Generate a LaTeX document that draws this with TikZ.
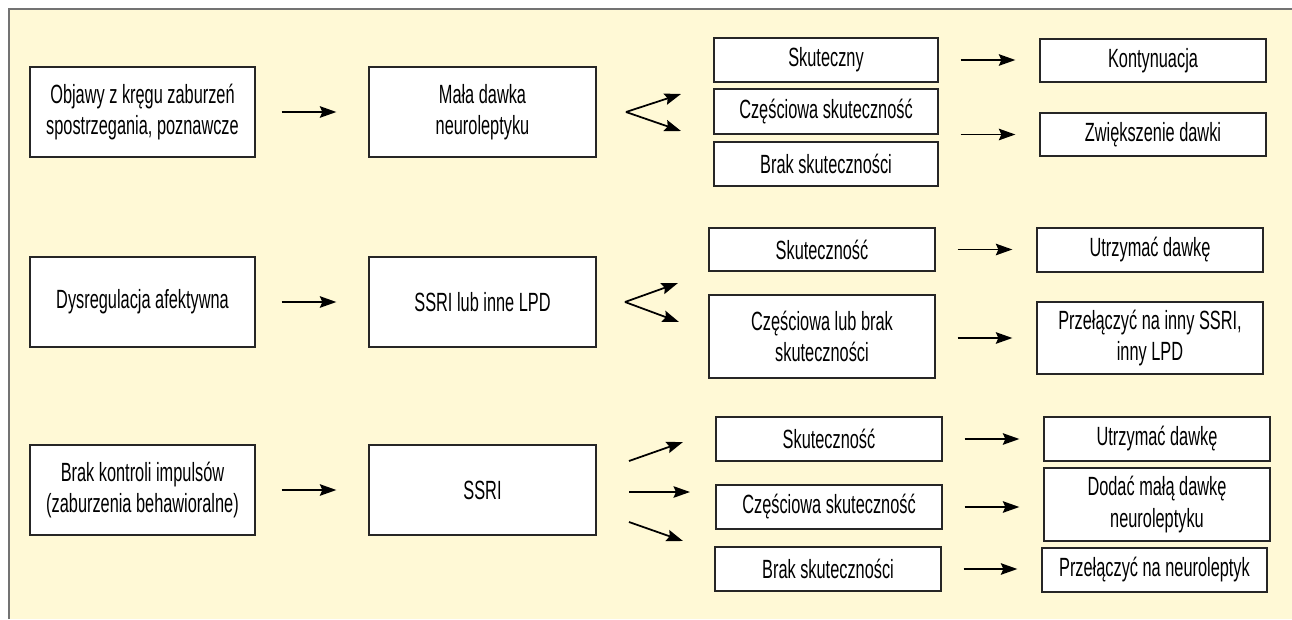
\documentclass[tikz,border=0pt]{standalone}
\usepackage{fontspec}
\setmainfont[FakeStretch=0.62]{Liberation Sans}
\usetikzlibrary{arrows.meta}
\definecolor{paper}{RGB}{255,249,214}

\begin{document}
\begin{tikzpicture}[x=0.02cm, y=-0.02cm,
	box/.style={draw=black!85, line width=0.75pt, fill=white, align=center, inner sep=0pt,
		font=\fontsize{15}{18}\selectfont},
	tip/.style={line width=1pt, -{Stealth[length=0.33cm, width=0.23cm, inset=0.05cm]}},
	arr/.style={tip, shorten <=0.44cm, shorten >=0.48cm}]
			%%%%% START %%%%%
			\useasboundingbox (0,0) rectangle (1292,619);
			\fill[paper] (9,9) rectangle (1292,619);
			\draw[black!55, line width=1.2pt] (9,619) -- (9,9) -- (1292,9);
			
			% row 1
			\node[box, minimum width=4.5cm, minimum height=1.8cm] (objawy) at (142.5,112) {Objawy z kręgu zaburzeń\\spostrzegania, poznawcze};
			\node[box, minimum width=4.54cm, minimum height=1.8cm] (dawka) at (482.5,112) {Mała dawka\\neuroleptyku};
			\draw[tip, shorten <=0.52cm, shorten >=0.64cm] (objawy) -- (dawka);
			
			\node[box, minimum width=4.48cm, minimum height=0.88cm] (skut1) at (826,60) {Skuteczny};
			\node[box, minimum width=4.48cm, minimum height=0.9cm] (czesc1) at (826,111.5) {Częściowa skuteczność};
			\node[box, minimum width=4.48cm, minimum height=0.88cm] (brak1) at (826,164) {Brak skuteczności};
			\node[box, minimum width=4.52cm, minimum height=0.86cm] (kont1) at (1153,60.5) {Kontynuacja};
			\node[box, minimum width=4.52cm, minimum height=0.86cm] (zwiek1) at (1153,134.5) {Zwiększenie dawki};
			
			\coordinate (w1) at (626,112);
			\coordinate (w1a) at (681,94);
			\coordinate (w1b) at (681,131);
			\draw[tip] (w1) -- (w1a);
			\draw[tip] (w1) -- (w1b);
			\draw[arr] (skut1.east) -- (skut1.east -| kont1.west);
			\draw[arr] (czesc1.south east |- zwiek1) -- (zwiek1.west);
			
			% row 2
			\node[box, minimum width=4.5cm, minimum height=1.8cm] (dysreg) at (142.5,302) {Dysregulacja afektywna};
			\node[box, minimum width=4.54cm, minimum height=1.8cm] (ssri2) at (482.5,302) {SSRI lub inne LPD};
			\draw[tip, shorten <=0.52cm, shorten >=0.64cm] (dysreg) -- (ssri2);
			
			\node[box, minimum width=4.52cm, minimum height=0.86cm] (skut2) at (822,249.5) {Skuteczność};
			\node[box, minimum width=4.52cm, minimum height=1.66cm] (czesc2) at (822,336.5) {Częściowa lub brak\\skuteczności};
			\node[box, minimum width=4.52cm, minimum height=0.88cm] (utrz2) at (1150,250) {Utrzymać dawkę};
			\node[box, minimum width=4.52cm, minimum height=1.44cm] (przel2) at (1150,338) {Przełączyć na inny SSRI,\\inny LPD};
			
			\coordinate (w2) at (625,302);
			\coordinate (w2a) at (678,283);
			\coordinate (w2b) at (679,322);
			\draw[tip] (w2) -- (w2a);
			\draw[tip] (w2) -- (w2b);
			\draw[arr] (skut2.east) -- (skut2.east -| utrz2.west);
			\draw[arr] (czesc2.east |- przel2) -- (przel2.west);
			
			% row 3
			\node[box, minimum width=4.5cm, minimum height=1.8cm] (impuls) at (142.5,490) {Brak kontroli impulsów\\(zaburzenia behawioralne)};
			\node[box, minimum width=4.54cm, minimum height=1.8cm] (ssri3) at (482.5,490) {SSRI};
			\draw[tip, shorten <=0.52cm, shorten >=0.64cm] (impuls) -- (ssri3);
			
			\node[box, minimum width=4.52cm, minimum height=0.88cm] (skut3) at (829,439) {Skuteczność};
			\node[box, minimum width=4.52cm, minimum height=0.88cm] (czesc3) at (829,507) {Częściowa skuteczność};
			\node[box, minimum width=4.52cm, minimum height=0.88cm] (brak3) at (828,569) {Brak skuteczności};
			\node[box, minimum width=4.52cm, minimum height=0.88cm] (utrz3) at (1157,439) {Utrzymać dawkę};
			\node[box, minimum width=4.52cm, minimum height=1.46cm] (dodac3) at (1157,504.5) {Dodać małą dawkę\\neuroleptyku};
			\node[box, minimum width=4.5cm, minimum height=0.88cm] (przel3) at (1154.5,570) {Przełączyć na neuroleptyk};
			
			\coordinate (v3a) at (629,461);
			\coordinate (v3b) at (629,492);
			\coordinate (v3c) at (629,522);
			\coordinate (e3a) at (683,442);
			\coordinate (e3b) at (690,492);
			\coordinate (e3c) at (683,541);
			\draw[tip] (v3a) -- (e3a);
			\draw[tip] (v3b) -- (e3b);
			\draw[tip] (v3c) -- (e3c);
			\draw[arr] (skut3.east) -- (skut3.east -| utrz3.west);
			\draw[arr] (czesc3.east) -- (czesc3.east -| dodac3.west);
			\draw[arr] (brak3.east) -- (brak3.east -| przel3.west);
			%%%%% END %%%%%
\end{tikzpicture}
\end{document}
